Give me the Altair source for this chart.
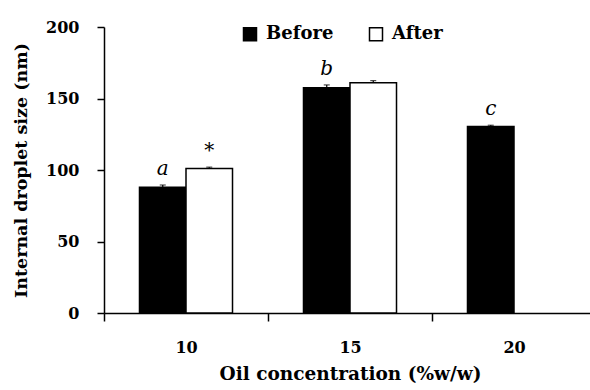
import altair as alt
import pandas as pd

concentration = ["10", "10", "15", "15", "20"]
phase = ["Before", "After", "Before", "After", "Before"]
size_nm = [88, 101, 157.5, 161, 130.5]
error = [1.5, 1.0, 2.0, 1.5, 0.8]
letters = ["a", "*", "b", "", "c"]

df = pd.DataFrame({
    "conc": concentration,
    "phase": phase,
    "size": size_nm,
    "err": error,
    "letter": letters,
})
df["top"] = df["size"] + df["err"]

FONT = "DejaVu Serif"

x_enc = alt.X(
    "conc:N",
    sort=["10", "15", "20"],
    scale=alt.Scale(paddingInner=0, paddingOuter=0, range=[0, 492]),
    axis=alt.Axis(
        title="Oil concentration (%w/w)",
        titleFontSize=18.5,
        labelAngle=0,
        tickBand="extent",
        tickSize=8,
        labelPadding=18,
        titlePadding=9,
        domainColor="black",
        tickColor="black",
        domainWidth=1.5,
        tickWidth=1.5,
    ),
)
xoff = alt.XOffset(
    "phase:N",
    sort=["Before", "After"],
    scale=alt.Scale(domain=["Before", "After"], paddingInner=0, paddingOuter=0.763),
)

bars = alt.Chart(df).mark_bar(stroke="black", strokeWidth=1.5).encode(
    x=x_enc,
    xOffset=xoff,
    y=alt.Y(
        "size:Q",
        scale=alt.Scale(domain=[0, 200], nice=False),
        axis=alt.Axis(
            title="Internal droplet size (nm)",
            titleFontSize=17.5,
            values=[0, 50, 100, 150, 200],
            grid=False,
            tickSize=7,
            labelPadding=18,
            titlePadding=15,
            domainColor="black",
            tickColor="black",
            domainWidth=1.5,
            tickWidth=1.5,
        ),
    ),
    fill=alt.Fill(
        "phase:N",
        sort=["Before", "After"],
        scale=alt.Scale(domain=["Before", "After"], range=["black", "white"]),
        legend=alt.Legend(
            title=None,
            orient="none",
            direction="horizontal",
            legendX=137,
            legendY=-2,
            symbolType="square",
            symbolSize=169,
            symbolStrokeColor="black",
            symbolStrokeWidth=1.5,
            labelFontSize=18,
            labelFont=FONT,
            labelFontWeight="bold",
            labelColor="black",
            labelOffset=7,
            columnPadding=32,
            padding=0,
        ),
    ),
)

errs = alt.Chart(df).mark_rule(color="black", strokeWidth=1.2).encode(
    x=alt.X("conc:N", sort=["10", "15", "20"]),
    xOffset=xoff,
    y="size:Q",
    y2="top:Q",
)
caps = alt.Chart(df).mark_tick(color="black", thickness=1.2, size=6).encode(
    x=alt.X("conc:N", sort=["10", "15", "20"]),
    xOffset=xoff,
    y="top:Q",
)
labels = alt.Chart(df).mark_text(
    font=FONT, fontStyle="italic", fontSize=20, baseline="bottom", dy=-6, color="black"
).encode(
    x=alt.X("conc:N", sort=["10", "15", "20"]),
    xOffset=xoff,
    y="top:Q",
    text="letter:N",
)

chart = (
    alt.layer(bars, errs, caps, labels)
    .properties(
        width=486,
        height=286,
        autosize=alt.AutoSizeParams(type="none"),
        padding={"left": 104, "top": 27, "right": 0, "bottom": 77},
    )
    .configure_view(stroke=None)
    .configure_axis(
        labelFont=FONT,
        labelFontSize=16,
        labelFontWeight="bold",
        labelColor="black",
        titleFont=FONT,
        titleFontSize=17,
        titleFontWeight="bold",
        titleColor="black",
    )
)

chart.save("out.html", embed_options={"renderer": "svg", "actions": False})
